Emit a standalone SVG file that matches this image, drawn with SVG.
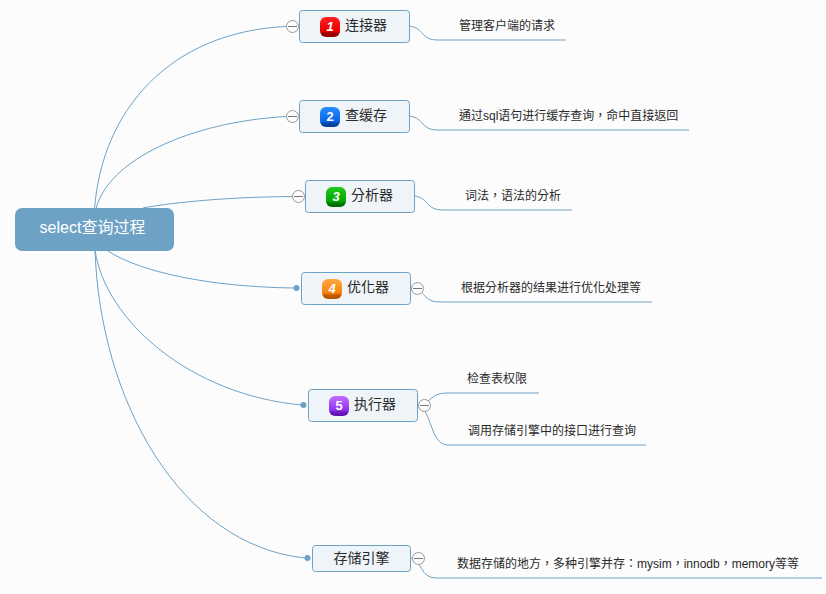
<svg xmlns="http://www.w3.org/2000/svg" width="826" height="594" viewBox="0 0 826 594">
<style>
text{font-family:"Liberation Sans","Noto Sans CJK TC",sans-serif;fill:#2a2a2a}
.c{fill:none;stroke:#6ea2c5;stroke-width:1}
.n{fill:#eff4f9;stroke:#6ea2c5;stroke-width:1}
.t{font-size:14px}
.l{font-size:12px}
.d{fill:#6ea2c5}
.m circle{fill:#fcfcfd;stroke:#999;stroke-width:1}
.m path{stroke:#777;stroke-width:1;fill:none}
.b{font-size:13px;font-weight:bold;text-anchor:middle}
text.b{fill:#fff}
.i{font-style:italic}
</style>
<defs>
<linearGradient id="r" x1="0" y1="0" x2="0" y2="1"><stop offset="0" stop-color="#ff2020"/><stop offset=".72" stop-color="#e80000"/><stop offset=".8" stop-color="#a00000"/><stop offset="1" stop-color="#900000"/></linearGradient>
<linearGradient id="bl" x1="0" y1="0" x2="0" y2="1"><stop offset="0" stop-color="#2a8cff"/><stop offset=".72" stop-color="#0a64e8"/><stop offset=".8" stop-color="#0848a8"/><stop offset="1" stop-color="#063a90"/></linearGradient>
<linearGradient id="g" x1="0" y1="0" x2="0" y2="1"><stop offset="0" stop-color="#20c820"/><stop offset=".72" stop-color="#00a800"/><stop offset=".8" stop-color="#007a00"/><stop offset="1" stop-color="#006a00"/></linearGradient>
<linearGradient id="o" x1="0" y1="0" x2="0" y2="1"><stop offset="0" stop-color="#ffa840"/><stop offset=".72" stop-color="#f58010"/><stop offset=".8" stop-color="#c85a00"/><stop offset="1" stop-color="#b05000"/></linearGradient>
<linearGradient id="p" x1="0" y1="0" x2="0" y2="1"><stop offset="0" stop-color="#c070ff"/><stop offset=".72" stop-color="#9030f0"/><stop offset=".8" stop-color="#7018c0"/><stop offset="1" stop-color="#6010b0"/></linearGradient>
</defs>
<rect width="826" height="594" fill="#fcfcfd"/>
<g id="connectors">
<path class="c" d="M94.500 209C102 110 170 32 286 26.500"/>
<path class="c" d="M96 209C108 160 190 122 286 116.500"/>
<path class="c" d="M143 208C175 202 230 197 292 196.500"/>
<path class="c" d="M108 251C140 272 210 287 294 288"/>
<path class="c" d="M95 250C105 320 190 395 302 405"/>
<path class="c" d="M95 250C100 400 180 545 305 558"/>
<path class="c" d="M409 26C425 28 420 40 438 40H566"/>
<path class="c" d="M409 116C425 118 420 130 438 130H689"/>
<path class="c" d="M414 196C430 198 425 210 443 210H572"/>
<path class="c" d="M411 288C427 290 422 302 440 302H652"/>
<path class="c" d="M418 405C430 405 430 393 446 393H539"/>
<path class="c" d="M418 405C432 410 430 445 448 445H646"/>
<path class="c" d="M411 558C422 560 420 578 436 578H822"/>
</g>
<g id="root"><rect x="15" y="208" width="159" height="43" rx="7" fill="#6ea2c5"/><text x="92.500" y="233" font-size="16" text-anchor="middle" style="fill:#fff">select查询过程</text></g>
<g id="n1"><rect class="n" x="299.500" y="10.500" width="110" height="32" rx="3"/><rect x="320" y="17" width="20" height="20" rx="6" fill="url(#r)"/><text class="b i" x="330" y="31">1</text><text class="t" x="345" y="30">连接器</text></g>
<g id="n2"><rect class="n" x="299.500" y="100.500" width="110" height="32" rx="3"/><rect x="320" y="107" width="20" height="20" rx="6" fill="url(#bl)"/><text class="b" x="330" y="121">2</text><text class="t" x="345" y="120">查缓存</text></g>
<g id="n3"><rect class="n" x="305.500" y="180.500" width="109" height="32" rx="3"/><rect x="326" y="187" width="20" height="20" rx="6" fill="url(#g)"/><text class="b i" x="336" y="201">3</text><text class="t" x="351" y="200">分析器</text></g>
<g id="n4"><rect class="n" x="301.500" y="272.500" width="109" height="32" rx="3"/><rect x="322" y="279" width="20" height="20" rx="6" fill="url(#o)"/><text class="b i" x="332" y="293">4</text><text class="t" x="347" y="292">优化器</text></g>
<g id="n5"><rect class="n" x="308.500" y="389.500" width="109" height="32" rx="3"/><rect x="329" y="396" width="20" height="20" rx="6" fill="url(#p)"/><text class="b" x="339" y="410">5</text><text class="t" x="354" y="409">执行器</text></g>
<g id="n6"><rect class="n" x="312.500" y="545.500" width="98" height="26" rx="3"/><text class="t" x="361.500" y="563" text-anchor="middle">存储引擎</text></g>
<g id="l1"><text class="l" x="459" y="30">管理客户端的请求</text></g>
<g id="l2"><text class="l" x="459" y="120">通过sql语句进行缓存查询，命中直接返回</text></g>
<g id="l3"><text class="l" x="465" y="200">词法，语法的分析</text></g>
<g id="l4"><text class="l" x="461" y="292">根据分析器的结果进行优化处理等</text></g>
<g id="l5"><text class="l" x="467" y="383">检查表权限</text></g>
<g id="l6"><text class="l" x="468" y="435">调用存储引擎中的接口进行查询</text></g>
<g id="l7"><text class="l" x="457" y="568">数据存储的地方，多种引擎并存：mysim，innodb，memory等等</text></g>
<g id="markers">
<g class="m"><circle cx="292.500" cy="26.500" r="6"/><path d="M288 26.500h9"/></g>
<g class="m"><circle cx="292.500" cy="116.500" r="6"/><path d="M288 116.500h9"/></g>
<g class="m"><circle cx="298.500" cy="196.500" r="6"/><path d="M294 196.500h9"/></g>
<g class="m"><circle cx="417.500" cy="288.500" r="6"/><path d="M413 288.500h9"/></g>
<g class="m"><circle cx="424.500" cy="405.500" r="6"/><path d="M420 405.500h9"/></g>
<g class="m"><circle cx="418.500" cy="558.500" r="6"/><path d="M414 558.500h9"/></g>
<circle class="d" cx="296.500" cy="288" r="3"/>
<circle class="d" cx="303.500" cy="405" r="3"/>
<circle class="d" cx="307.500" cy="558" r="3"/>
</g>
</svg>
